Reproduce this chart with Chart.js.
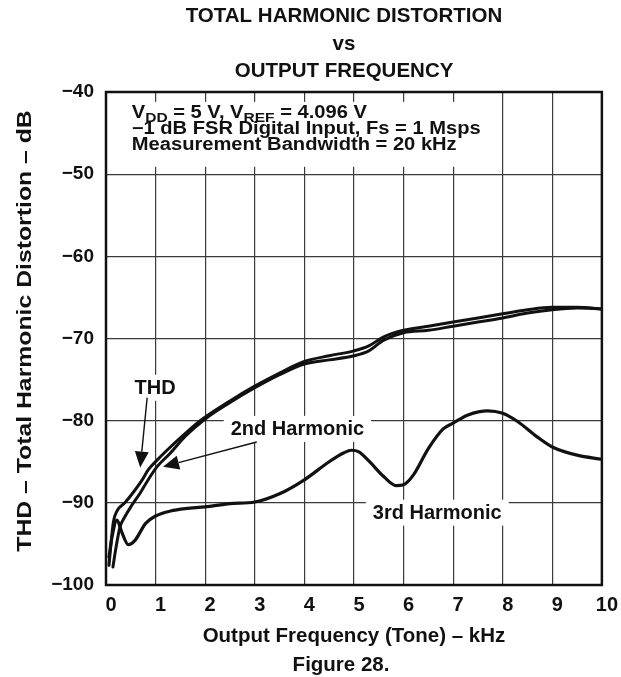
<!DOCTYPE html>
<html>
<head>
<meta charset="utf-8">
<script src="https://cdn.jsdelivr.net/npm/chart.js@4.4.0/dist/chart.umd.min.js"></script>
<style>
  html, body { margin: 0; padding: 0; background: #fff; }
</style>
</head>
<body>
<canvas id="thdChart" width="621" height="677"></canvas>
<script>
const fontFamily = "'Liberation Sans', Arial, Helvetica, sans-serif";
Chart.defaults.font.family = fontFamily;
Chart.defaults.color = '#111';

const xTicks = [0, 1, 2, 3, 4, 5, 6, 7, 8, 9, 10];
const yTicks = [-100, -90, -80, -70, -60, -50, -40];

// frequency in kHz, level in dB
const thdFreq = [0.06, 0.10, 0.15, 0.22, 0.38, 0.54, 0.73, 0.85, 1.03, 1.23, 1.5, 1.9, 2.5, 3.0, 3.5, 4.0, 4.5, 5.0, 5.3, 5.6, 6.0, 6.5, 7.0, 7.5, 8.0, 8.5, 9.0, 9.5, 10];
const thdDb = [-97.6, -95.0, -92.3, -91.0, -90.0, -88.8, -87.2, -86.0, -84.8, -83.6, -82.1, -80.0, -77.6, -75.8, -74.2, -72.8, -72.1, -71.5, -70.9, -69.8, -69.0, -68.5, -68.0, -67.5, -67.0, -66.5, -66.2, -66.2, -66.4];

const secondFreq = [0.14, 0.20, 0.28, 0.38, 0.52, 0.69, 0.83, 1.03, 1.29, 1.6, 2.0, 2.5, 3.0, 3.5, 4.0, 4.5, 5.0, 5.3, 5.6, 6.0, 6.5, 7.0, 7.5, 8.0, 8.5, 9.0, 9.5, 10];
const secondDb = [-97.8, -95.5, -93.0, -91.7, -90.3, -88.8, -87.4, -85.6, -84.0, -81.9, -79.8, -77.8, -76.0, -74.4, -73.1, -72.6, -72.1, -71.5, -70.2, -69.3, -69.0, -68.5, -68.0, -67.5, -66.9, -66.5, -66.3, -66.4];

const thirdFreq = [0.06, 0.12, 0.22, 0.32, 0.45, 0.58, 0.8, 1.0, 1.3, 1.6, 2.0, 2.5, 3.0, 3.5, 4.0, 4.5, 4.8, 4.95, 5.1, 5.3, 5.6, 5.85, 6.0, 6.2, 6.5, 6.8, 7.0, 7.3, 7.7, 8.0, 8.3, 8.7, 9.0, 9.5, 10];
const thirdDb = [-96.6, -94.2, -92.1, -93.6, -95.1, -94.6, -92.5, -91.6, -91.0, -90.7, -90.5, -90.1, -89.9, -88.9, -87.2, -85.0, -83.9, -83.6, -83.8, -84.9, -86.8, -87.9, -87.8, -86.6, -83.4, -81.0, -80.3, -79.3, -78.8, -79.1, -80.1, -82.0, -83.2, -84.2, -84.7];

const titleLines = ['TOTAL HARMONIC DISTORTION', 'vs', 'OUTPUT FREQUENCY'];
const conditionLines = [
  [['V'], ['DD', 'sub'], [' = 5 V, V'], ['REF', 'sub'], [' = 4.096 V']],
  [['\u22121 dB FSR Digital Input, Fs = 1 Msps']],
  [['Measurement Bandwidth = 20 kHz']]
];
const yTitle = 'THD \u2013 Total Harmonic Distortion \u2013 dB';
const figureLabel = 'Figure 28.';

function toPoints(xs, ys) {
  return xs.map((x, i) => ({ x, y: ys[i] }));
}

const ink = '#111';
const boldFont = size => 'bold ' + size + 'px ' + fontFamily;
const condStretch = 1.15;

// labels placed in data units: [text, x, y]
const curveLabels = [
  ['THD', 0.99, -76.0],
  ['2nd Harmonic', 3.86, -81.0],
  ['3rd Harmonic', 6.68, -91.2]
];
// arrows: [fromX, fromY, tipX, tipY]
const arrows = [
  [0.83, -77.2, 0.69, -85.7],
  [3.04, -82.6, 1.15, -85.6]
];

function labelBox(ctx, item, xs, ys) {
  ctx.font = boldFont(20);
  const w = ctx.measureText(item[0]).width;
  const cx = xs.getPixelForValue(item[1]);
  const cy = ys.getPixelForValue(item[2]);
  return { x: cx - w / 2 - 7, y: cy - 13, w: w + 14, h: 26, cx, cy };
}

function setCondFont(ctx, sub) {
  ctx.font = boldFont(sub ? 13.5 : 17.5);
}

function richWidth(ctx, parts) {
  let w = 0;
  parts.forEach(p => {
    setCondFont(ctx, !!p[1]);
    w += ctx.measureText(p[0]).width;
  });
  return w * condStretch;
}

const annotationPlugin = {
  id: 'annotationPlugin',
  beforeDatasetsDraw(chart) {
    const { ctx, scales: { x, y } } = chart;
    ctx.save();
    ctx.fillStyle = '#fff';
    curveLabels.forEach(item => {
      const b = labelBox(ctx, item, x, y);
      ctx.fillRect(b.x, b.y, b.w, b.h);
    });
    // conditions block
    const left = x.getPixelForValue(0.52);
    const top = y.getPixelForValue(-41.2);
    let maxW = 0;
    conditionLines.forEach(l => { maxW = Math.max(maxW, richWidth(ctx, l)); });
    ctx.fillRect(left - 8, top, maxW + 14, y.getPixelForValue(-49.1) - top);
    ctx.restore();
  },
  afterDatasetsDraw(chart) {
    const { ctx, chartArea: a, scales: { x, y } } = chart;
    ctx.save();
    ctx.fillStyle = ink;
    ctx.strokeStyle = ink;

    // frame
    ctx.lineWidth = 2.5;
    ctx.strokeRect(a.left, a.top, a.right - a.left, a.bottom - a.top);

    // title
    ctx.font = boldFont(20.5);
    ctx.textAlign = 'center';
    ctx.textBaseline = 'alphabetic';
    const mid = x.getPixelForValue(4.8);
    [22, 50, 77].forEach((by, i) => ctx.fillText(titleLines[i], mid, by));

    // figure caption
    ctx.fillText(figureLabel, mid - 3, 671);

    // y axis title
    ctx.save();
    ctx.translate(25, 331);
    ctx.rotate(-Math.PI / 2);
    ctx.scale(1.18, 1);
    ctx.font = boldFont(21);
    ctx.textBaseline = 'middle';
    ctx.fillText(yTitle, 0, 0);
    ctx.restore();

    // curve labels
    ctx.textBaseline = 'middle';
    curveLabels.forEach(item => {
      const b = labelBox(ctx, item, x, y);
      ctx.fillText(item[0], b.cx, b.cy + 1);
    });

    // conditions
    ctx.save();
    ctx.textAlign = 'left';
    ctx.textBaseline = 'alphabetic';
    const left = x.getPixelForValue(0.52);
    ctx.translate(left, 0);
    ctx.scale(condStretch, 1);
    [-43.2, -45.1, -47.0].forEach((v, i) => {
      let px = 0;
      const base = y.getPixelForValue(v);
      conditionLines[i].forEach(p => {
        const sub = !!p[1];
        setCondFont(ctx, sub);
        ctx.fillText(p[0], px, base + (sub ? 4 : 0));
        px += ctx.measureText(p[0]).width;
      });
    });
    ctx.restore();

    // arrows
    ctx.lineWidth = 1.4;
    arrows.forEach(ar => {
      const x0 = x.getPixelForValue(ar[0]), y0 = y.getPixelForValue(ar[1]);
      const x1 = x.getPixelForValue(ar[2]), y1 = y.getPixelForValue(ar[3]);
      const ang = Math.atan2(y1 - y0, x1 - x0);
      const len = 16, half = 7;
      const bx = x1 - Math.cos(ang) * len, by = y1 - Math.sin(ang) * len;
      ctx.beginPath();
      ctx.moveTo(x0, y0);
      ctx.lineTo(bx, by);
      ctx.stroke();
      ctx.beginPath();
      ctx.moveTo(x1, y1);
      ctx.lineTo(bx + Math.sin(ang) * half, by - Math.cos(ang) * half);
      ctx.lineTo(bx - Math.sin(ang) * half, by + Math.cos(ang) * half);
      ctx.closePath();
      ctx.fill();
    });
    ctx.restore();
  }
};

new Chart(document.getElementById('thdChart'), {
  type: 'line',
  data: {
    datasets: [
      { label: 'THD', data: toPoints(thdFreq, thdDb), borderColor: ink, borderWidth: 3 },
      { label: '2nd Harmonic', data: toPoints(secondFreq, secondDb), borderColor: ink, borderWidth: 3 },
      { label: '3rd Harmonic', data: toPoints(thirdFreq, thirdDb), borderColor: ink, borderWidth: 3.2 }
    ]
  },
  options: {
    responsive: false,
    animation: false,
    layout: { padding: { left: 0, right: 19, top: 92, bottom: 0 } },
    elements: {
      point: { radius: 0 },
      line: { cubicInterpolationMode: 'monotone', fill: false, borderCapStyle: 'round', borderJoinStyle: 'round' }
    },
    plugins: { legend: { display: false }, tooltip: { enabled: false } },
    scales: {
      x: {
        type: 'linear', min: 0, max: 10,
        afterBuildTicks: s => { s.ticks = xTicks.map(v => ({ value: v })); },
        afterFit: s => { s.height = 92; },
        ticks: { font: { size: 20, weight: 'bold' }, padding: 8, labelOffset: 5, color: ink, maxRotation: 0 },
        grid: { color: '#3a3a3a', lineWidth: 1.2, drawTicks: false },
        border: { display: false },
        title: {
          display: true, text: 'Output Frequency (Tone) \u2013 kHz', color: ink,
          font: { size: 20.5, weight: 'bold' }, padding: { top: 0, bottom: 28 }
        }
      },
      y: {
        min: -100, max: -40,
        afterBuildTicks: s => { s.ticks = yTicks.map(v => ({ value: v })); },
        afterFit: s => { s.width = 106; },
        ticks: {
          font: { size: 19, weight: 'bold' }, padding: 12, color: ink,
          callback: v => (v < 0 ? '\u2212' + Math.abs(v) : String(v))
        },
        grid: { color: '#3a3a3a', lineWidth: 1.2, drawTicks: false },
        border: { display: false },
        title: { display: false }
      }
    }
  },
  plugins: [annotationPlugin]
});
</script>
</body>
</html>
